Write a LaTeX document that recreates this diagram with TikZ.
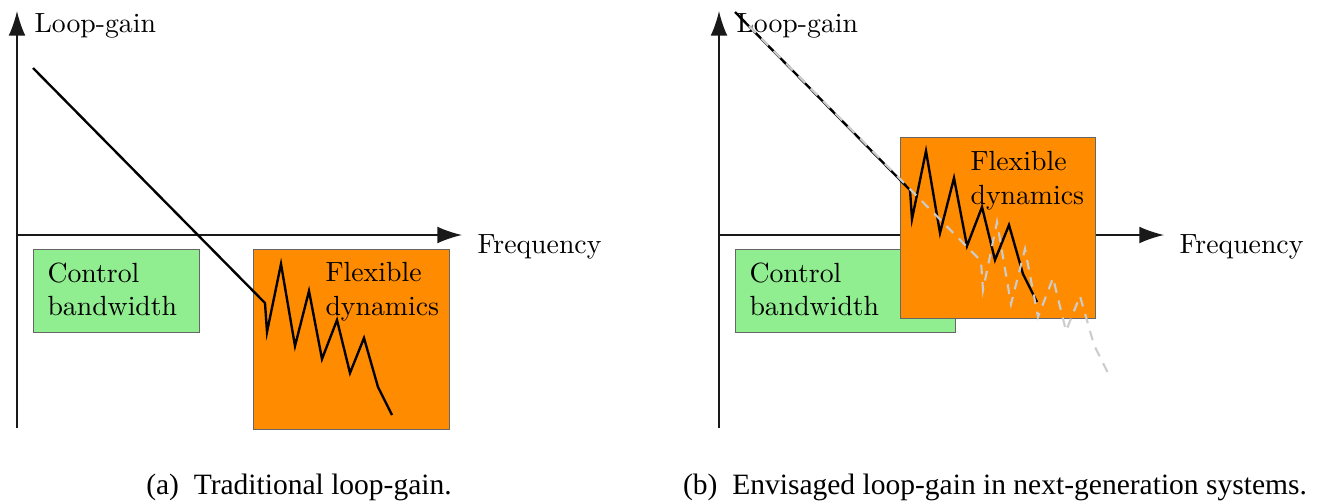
\documentclass[tikz,border=0pt]{standalone}
\usepackage{fontspec}
\newfontfamily\capfont{Liberation Serif}
\usetikzlibrary{arrows.meta}
\definecolor{ctrlgreen}{RGB}{144,238,144}
\definecolor{flexorange}{RGB}{255,140,0}
\tikzset{
    axis/.style={line width=0.85pt, draw=black!90, -{Latex[length=14pt,width=9.5pt]}},
    curve/.style={line width=1.35pt, line join=miter},
    ghost/.style={line width=1.2pt, draw=black!20, dash pattern=on 5.5pt off 4.5pt},
    ctrlbox/.style={fill=ctrlgreen, draw=black!60, line width=0.5pt},
    flexbox/.style={fill=flexorange, draw=black!60, line width=0.5pt},
    lbl/.style={font=\normalsize, scale=1.58, inner sep=0pt},
    capt/.style={font=\capfont\fontsize{16.8}{19}\selectfont, inner sep=0pt}
}
\begin{document}
\begin{tikzpicture}[x=0.02cm, y=-0.02cm]
        \useasboundingbox (0,0) rectangle (1322,501);
        % axes of both panels
        \foreach \j in {0,702}
        {
            \draw[axis] (17+\j,428) -- (17+\j,11);
            \draw[axis] (17+\j,235) -- (462+\j,235);
            \node[lbl, anchor=base west] (gain\j) at (34+\j,32) {Loop-gain};
            \node[lbl, anchor=base west] (freq\j) at (477+\j,253) {Frequency};
        }
        % boxes
        \draw[ctrlbox] (33,249) rectangle (199,332);
        \draw[flexbox] (253,249) rectangle (449,429);
        \draw[ctrlbox] (735,249) rectangle (955,332);
        \draw[flexbox] (900,137) rectangle (1095,318);
        \node[lbl, anchor=north west, align=left] (ctrlA) at (47,262) {Control\\bandwidth};
        \node[lbl, anchor=north west, align=left] (flexA) at (325,262) {Flexible\\dynamics};
        \node[lbl, anchor=north west, align=left] (ctrlB) at (749,262) {Control\\bandwidth};
        \node[lbl, anchor=north west, align=left] (flexB) at (970,151) {Flexible\\dynamics};
        % loop-gain curves
        \foreach \dx/\dy/\xs/\sty in {0/0/33/curve, 645/-113/90/curve, 716/-42/33/ghost}
        {
            \draw[\sty, shift={(\dx,\dy)}] (\xs,\xs+35) -- (265,303) -- (267,332) -- (281,264)
                -- (295,346) -- (309,291) -- (322,359) -- (337,320) -- (350,373)
                -- (364,338) -- (378,387) -- (392,415);
        }
        \node[capt] (captA) at (299,487) {(a)\enskip Traditional loop-gain.};
        \node[capt] (captB) at (995,487) {(b)\enskip Envisaged loop-gain in next-generation systems.};
\end{tikzpicture}
\end{document}
